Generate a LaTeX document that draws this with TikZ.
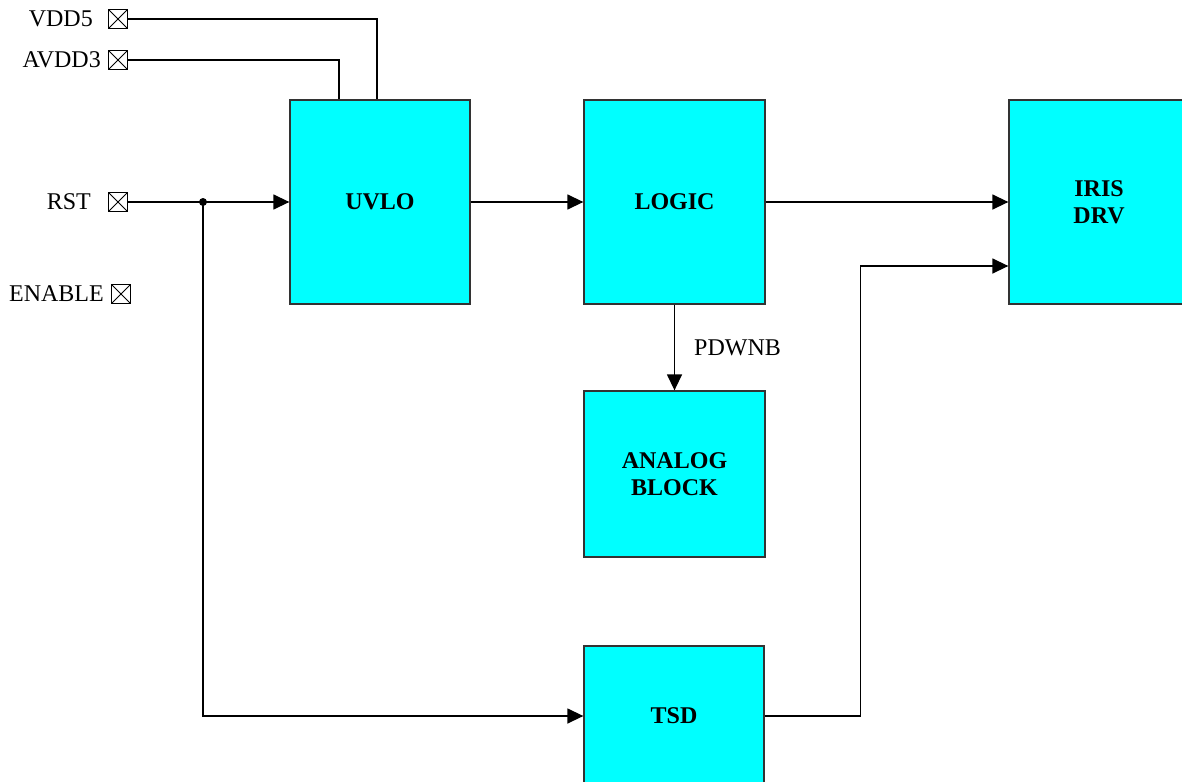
\documentclass[tikz,border=0pt]{standalone}
\usepackage{fontspec}
\setmainfont{Liberation Serif}
\usetikzlibrary{arrows.meta}
\definecolor{aqua}{RGB}{0,255,255}
\begin{document}
\begin{tikzpicture}[x=1pt,y=-1pt,
  font=\fontsize{24}{28}\selectfont,
  blk/.style={draw=black!80,fill=aqua,line width=1.3pt,inner sep=0pt,
     font=\fontsize{24}{27}\selectfont\bfseries,align=center},
  padbox/.style={draw,line width=1.1pt,minimum size=19pt,inner sep=0pt,
     path picture={\draw[line width=0.9pt] (path picture bounding box.south west) -- (path picture bounding box.north east)
       (path picture bounding box.north west) -- (path picture bounding box.south east);}},
  lbl/.style={anchor=east,inner sep=0pt},
  wire/.style={line width=1.4pt},
  arr/.style={wire,-{Triangle[length=16pt,width=15pt]}}]
\useasboundingbox (0,0) rectangle (1182,781);
\clip (0,0) rectangle (1182,781);
% blocks
\node[blk,minimum width=180pt,minimum height=204pt] (uvlo) at (380,202) {UVLO};
\node[blk,minimum width=181pt,minimum height=204pt] (logic) at (674.5,202) {LOGIC};
\node[blk,minimum width=180pt,minimum height=204pt] (iris) at (1099,202) {IRIS\\DRV};
\node[blk,minimum width=181pt,minimum height=166pt] (analog) at (674.5,474) {ANALOG\\BLOCK};
\node[blk,minimum width=180pt,minimum height=140pt] (tsd) at (674,716) {TSD};
% pads
\node[padbox] (vdd5) at (118,19) {};
\node[padbox] (avdd3) at (118,60) {};
\node[padbox] (rst) at (118,202) {};
\node[padbox] (enable) at (121,294) {};
\node[lbl] (vdd5l) at (93,19) {VDD5};
\node[lbl] (avdd3l) at (101,60) {AVDD3};
\node[lbl] (rstl) at (91,202) {RST};
\node[lbl] (enablel) at (104,294) {ENABLE};
% wires
\draw[wire] (vdd5.east) -| ([xshift=-3pt]uvlo.north);
\draw[wire] (avdd3.east) -| ([xshift=-41pt]uvlo.north);
\coordinate (j) at (203,202);
\draw[arr] (rst.east) -- (uvlo.west);
\fill (j) circle (4);
\draw[arr] (j) |- (tsd.west);
\draw[arr] (uvlo.east) -- (logic.west);
\draw[arr] (logic.east) -- (iris.west);
\draw[arr] (logic.south) -- node[right=19pt,inner sep=0pt] (pdwnb) {PDWNB} (analog.north);
\draw[arr] (tsd.east) -- ++(96,0) |- ([yshift=-64pt]iris.west);
\end{tikzpicture}
\end{document}
